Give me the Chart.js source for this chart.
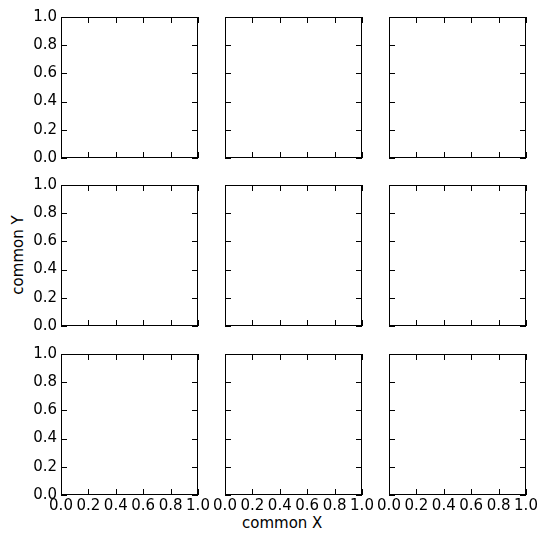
<!DOCTYPE html>
<html>
<head>
<meta charset="utf-8">
<script src="https://cdn.jsdelivr.net/npm/chart.js@4"></script>
<style>
  body { margin: 0; background: #fff; width: 547px; height: 544px; position: relative; overflow: hidden; }
  canvas { position: absolute; }
  .lbl { position: absolute; font: 15px "DejaVu Sans", sans-serif; color: #000; white-space: nowrap; }
</style>
</head>
<body>
<div class="lbl" style="left:242px;top:514px;">common X</div>
<div class="lbl" style="left:18px;top:255px;transform:translate(-50%,-50%) rotate(-90deg);">common Y</div>
<script>
// ─── Data ───────────────────────────────────────────────────────────────────
const xTicks = [0, 0.2, 0.4, 0.6, 0.8, 1.0];
const yTicks = [0, 0.2, 0.4, 0.6, 0.8, 1.0];
const nRows = 3, nCols = 3;

// ─── Layout ─────────────────────────────────────────────────────────────────
const colLeft = [61, 225, 389], rowTop = [17, 185, 354];
const PW = 137, PH = 141, YW = 50, XH = 30, PADT = 12, PADR = 16;
const FONT = '15px "DejaVu Sans", sans-serif';

// spines, inward ticks on all four sides, and tick labels
const boxTicks = {
  id: 'boxTicks',
  afterDraw(chart) {
    const { ctx, chartArea: a, scales: { x, y } } = chart;
    const { showX, showY } = chart.options.plugins.boxTicks;
    ctx.save();
    ctx.strokeStyle = '#000'; ctx.lineWidth = 1;
    ctx.strokeRect(a.left + 0.5, a.top + 0.5, a.right - a.left - 1, a.bottom - a.top - 1);
    ctx.beginPath();
    xTicks.forEach(v => {
      const px = Math.round(x.getPixelForValue(v)) + 0.5;
      ctx.moveTo(px, a.bottom); ctx.lineTo(px, a.bottom - 6);
      ctx.moveTo(px, a.top);    ctx.lineTo(px, a.top + 6);
    });
    yTicks.forEach(v => {
      const py = Math.round(y.getPixelForValue(v)) + 0.5;
      ctx.moveTo(a.left, py);  ctx.lineTo(a.left + 6, py);
      ctx.moveTo(a.right, py); ctx.lineTo(a.right - 6, py);
    });
    ctx.stroke();
    ctx.fillStyle = '#000'; ctx.font = FONT;
    if (showY) {
      ctx.textAlign = 'right'; ctx.textBaseline = 'middle';
      yTicks.forEach(v => ctx.fillText(v.toFixed(1), a.left - 4, y.getPixelForValue(v)));
    }
    if (showX) {
      ctx.textAlign = 'center'; ctx.textBaseline = 'top';
      xTicks.forEach(v => ctx.fillText(v.toFixed(1), x.getPixelForValue(v), a.bottom + 4));
    }
    ctx.restore();
  }
};

for (let r = 0; r < nRows; r++) {
  for (let c = 0; c < nCols; c++) {
    const cv = document.createElement('canvas');
    cv.width = PW + YW + PADR; cv.height = PH + XH + PADT;
    cv.style.left = (colLeft[c] - YW) + 'px';
    cv.style.top = (rowTop[r] - PADT) + 'px';
    cv.style.width = cv.width + 'px'; cv.style.height = cv.height + 'px';
    document.body.appendChild(cv);

    new Chart(cv, {
      type: 'scatter',
      data: { datasets: [{ data: [] }] },
      options: {
        responsive: false, animation: false, devicePixelRatio: 1,
        layout: { padding: { top: PADT, right: PADR, left: 0, bottom: 0 } },
        plugins: {
          legend: { display: false }, tooltip: { enabled: false },
          boxTicks: { showX: r === nRows - 1, showY: c === 0 }
        },
        scales: {
          x: {
            type: 'linear', min: 0, max: 1,
            afterFit: s => { s.height = XH; },
            grid: { display: false }, border: { display: false },
            ticks: { display: false }
          },
          y: {
            type: 'linear', min: 0, max: 1,
            afterFit: s => { s.width = YW; },
            grid: { display: false }, border: { display: false },
            ticks: { display: false }
          }
        }
      },
      plugins: [boxTicks]
    });
  }
}
</script>
</body>
</html>
